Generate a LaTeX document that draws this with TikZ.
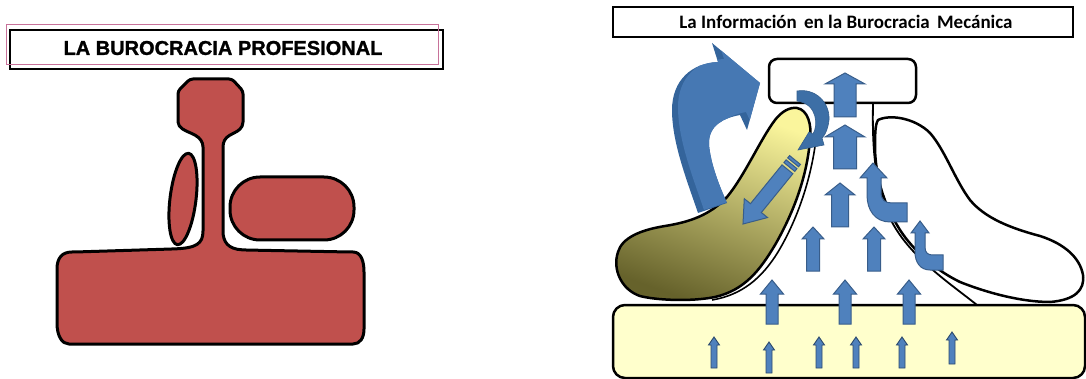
\documentclass[tikz,border=0pt]{standalone}
\usepackage{fontspec}
\setmainfont{Liberation Sans}
\newfontfamily\heavyfont[FakeBold=1.3]{Liberation Sans Bold}
\newfontfamily\calibri{Carlito}
\definecolor{redfill}{HTML}{C0504D}
\definecolor{arrowfill}{HTML}{4F81BD}
\definecolor{arrowedge}{HTML}{385D8A}
\definecolor{darkarrow}{HTML}{3D6FA6}
\definecolor{sidearrow}{HTML}{34649B}
\definecolor{facearrow}{HTML}{4678B3}
\definecolor{basefill}{HTML}{FFFFCC}
\definecolor{titlepink}{HTML}{C8729A}
\definecolor{paleyellow}{HTML}{FAF59C}
\definecolor{midyellow}{HTML}{E6DE88}
\definecolor{olive}{HTML}{66622B}
% vertical block arrow: x, top, bottom, shaft half width, head half width, head length
\newcommand{\blockup}[6]{%
  \draw[blockarrow] (#1-#4,#3) -- (#1-#4,#2+#6) -- (#1-#5,#2+#6) -- (#1,#2)
    -- (#1+#5,#2+#6) -- (#1+#4,#2+#6) -- (#1+#4,#3) -- cycle;}
% outline of the large curved arrow
\newcommand{\curvedarrowpath}{%
  (698,213) .. controls (686,178) and (672,142) .. (672,110)
  .. controls (672,80) and (692,63) .. (718,62) -- (712,43) -- (760,83) -- (747,130)
  -- (740,115) .. controls (724,118) and (708,125) .. (709,145)
  .. controls (711,165) and (719,185) .. (727,203) -- cycle}
\begin{document}
\begin{tikzpicture}[x=1pt,y=-1pt,
  redshape/.style={fill=redfill, draw=black, line width=3pt, line join=round},
  outline/.style={draw=black, line width=2.5pt, line join=round},
  blockarrow/.style={fill=arrowfill, draw=arrowedge, line width=1pt, line join=miter},
  thinarrow/.style={fill=arrowfill, draw=arrowedge!80!black, line width=0.9pt},
  bigcurve/.style={fill=darkarrow, draw=darkarrow!85!black, line width=0.6pt}]
\useasboundingbox (0,0) rectangle (1086,379);

% ---------------- professional bureaucracy ----------------
\node[draw=black, line width=1.2pt, minimum width=433pt, minimum height=39pt, inner sep=0pt]
  (proffr) at (226.5,49.5) {};
\node[draw=titlepink, line width=1pt, minimum width=432pt, minimum height=40pt, inner sep=0pt]
  (profpk) at (222,45) {};
\node[font=\heavyfont\fontsize{20}{24}\selectfont, inner sep=0pt] (proftitle) at (223,48)
  {LA BUROCRACIA PROFESIONAL};

% apex, middle line and operating core in one outline
\draw[redshape, rounded corners=3pt]
  (190,79) -- (232,79) -- (243,91) -- (243,119)
  .. controls (243,128) and (238,131) .. (232,134)
  .. controls (225,138) and (223,142) .. (223,150) -- (223,228)
  .. controls (223,242) and (228,249) .. (245,250) -- (350,252)
  .. controls (361,252) and (364,261) .. (364,275) -- (364,326)
  .. controls (364,338) and (360,344) .. (350,344) -- (72,344)
  .. controls (62,344) and (57,336) .. (57,320) -- (57,272)
  .. controls (57,258) and (62,252) .. (75,252) -- (172,249)
  .. controls (196,248) and (203,244) .. (203,228) -- (203,150)
  .. controls (203,142) and (200,138) .. (193,134)
  .. controls (186,131) and (178,128) .. (178,119) -- (178,91) -- cycle;
% technostructure
\draw[redshape, rotate around={-7:(183,199)}] (183,199) ellipse [x radius=13, y radius=46];
% support staff
\draw[redshape, rounded corners=30pt] (230,177) rectangle (354,240);

% ---------------- machine bureaucracy ----------------
\node[draw=black, line width=1.2pt, minimum width=460pt, minimum height=30pt, inner sep=0pt]
  (infotitle) at (843,22) {};
\node[font=\calibri\bfseries\fontsize{19}{22}\selectfont, inner sep=0pt] (infotext) at (846,22)
  {La Información\hspace{3pt} en la Burocracia\hspace{3pt} Mecánica};

% operating core
\node[outline, fill=basefill, rounded corners=12pt, minimum width=472pt, minimum height=73pt,
  inner sep=0pt] (core) at (849,341.5) {};

% technostructure (shaded)
\path[outline, top color=paleyellow, middle color=midyellow, bottom color=olive,
  shading angle=-20]
  (797,108) .. controls (808,110) and (812,125) .. (810,140)
  .. controls (807,175) and (795,210) .. (775,245)
  .. controls (760,270) and (745,290) .. (715,297)
  .. controls (690,302) and (655,300) .. (640,296)
  .. controls (622,290) and (612,270) .. (618,252)
  .. controls (622,238) and (640,230) .. (665,226)
  .. controls (690,222) and (710,215) .. (727,197)
  .. controls (745,175) and (760,140) .. (775,120)
  .. controls (782,111) and (790,107) .. (797,108) -- cycle;
\draw[black, line width=1.6pt]
  (818,112) .. controls (817,160) and (802,212) .. (778,252)
  .. controls (762,278) and (742,295) .. (712,300);

% support staff
\draw[outline, fill=white]
  (878,120) .. controls (890,114) and (915,118) .. (930,133)
  .. controls (945,150) and (955,180) .. (970,200)
  .. controls (985,218) and (1010,228) .. (1040,236)
  .. controls (1065,244) and (1080,258) .. (1083,275)
  .. controls (1085,290) and (1075,300) .. (1050,302)
  .. controls (1020,302) and (985,292) .. (960,282)
  .. controls (935,270) and (910,248) .. (897,225)
  .. controls (882,200) and (876,175) .. (875,150)
  .. controls (875,135) and (875,125) .. (878,120) -- cycle;
\draw[black, line width=1.8pt]
  (873,103) .. controls (872,150) and (875,190) .. (893,224)
  .. controls (912,258) and (948,282) .. (977,305);

% strategic apex
\node[outline, fill=white, rounded corners=8pt, minimum width=147pt, minimum height=44pt,
  inner sep=0pt] (apex) at (842.5,81) {};

% large curved arrow leaving the apex: dark side, then lighter front face
\fill[sidearrow] \curvedarrowpath;
\begin{scope}
  \clip \curvedarrowpath;
  \fill[facearrow, shift={(6,-3)}] \curvedarrowpath;
\end{scope}

% small curved arrow from the apex into the technostructure
\draw[bigcurve]
  (797,91) .. controls (815,88) and (830,102) .. (829,120)
  .. controls (828,128) and (826,134) .. (822,138) -- (824,145) -- (798,150)
  -- (809,132) -- (813,134) .. controls (818,126) and (818,104) .. (797,101) -- cycle;

% striped arrow down the technostructure
\begin{scope}[shift={(795,160)}, rotate=230.9]
  \draw[blockarrow] (12,-7) -- (62,-7) -- (62,-15) -- (82.5,0) -- (62,15) -- (62,7) -- (12,7) -- cycle;
  \draw[blockarrow] (0,-7) rectangle (3,7);
  \draw[blockarrow] (5.5,-7) rectangle (9,7);
\end{scope}

% hooked arrows along the support staff
\draw[blockarrow]
  (873,163) -- (887,178) -- (881,178) -- (881,192)
  .. controls (881,200) and (885,203) .. (892,203) -- (907,203) -- (907,222) -- (890,222)
  .. controls (875,222) and (867,210) .. (867,195) -- (867,178) -- (860,178) -- cycle;
\draw[blockarrow]
  (920,221) -- (929,233) -- (925,233) -- (925,247)
  .. controls (925,253) and (928,255) .. (933,255) -- (943,255) -- (943,270) -- (930,270)
  .. controls (920,270) and (915,262) .. (915,252) -- (915,233) -- (911,233) -- cycle;

% upward flow through the middle line
\blockup{772}{280}{324}{6}{11.5}{14}
\blockup{845}{280}{324}{6}{11.5}{14}
\blockup{909}{280}{324}{6}{11.5}{14}
\blockup{813}{227}{271}{6.5}{11}{12}
\blockup{874}{227}{271}{6.5}{11}{12}
\blockup{840}{183}{227}{8.5}{15}{12}
\blockup{845}{125}{169}{11.5}{20}{12}
\blockup{845}{73}{117}{11}{20}{11}

% small arrows inside the operating core
\foreach \ax/\at/\ab in {714/337/368, 769/342/373, 819/337/368, 856/337/368, 902/337/368, 952/332/364}
  \draw[thinarrow] (\ax-3,\ab) -- (\ax-3,\at+8) -- (\ax-5.5,\at+8) -- (\ax,\at)
    -- (\ax+5.5,\at+8) -- (\ax+3,\at+8) -- (\ax+3,\ab) -- cycle;
\end{tikzpicture}
\end{document}
